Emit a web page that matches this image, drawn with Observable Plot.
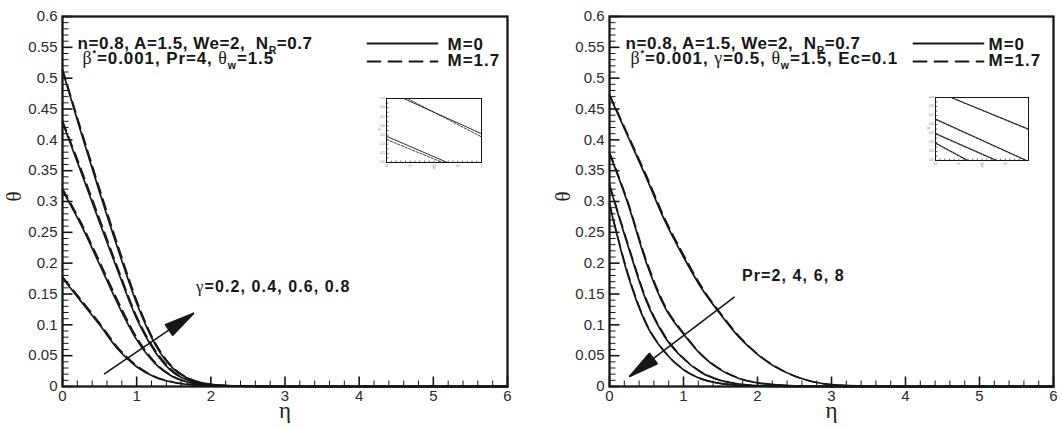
<!DOCTYPE html>
<html><head><meta charset="utf-8">
<script src="https://cdn.jsdelivr.net/npm/d3@7"></script>
<script src="https://cdn.jsdelivr.net/npm/@observablehq/plot@0.6"></script>
<style>
body{margin:0;background:#fff;}
#wrap{position:relative;width:1062px;height:429px;overflow:hidden;background:#fff;}
#wrap > div{position:absolute;}
svg{display:block;}
</style></head><body><div id="wrap"></div>
<script>
// ---------- data ----------
const etaGrid = [0,0.25,0.5,0.75,1,1.25,1.5,1.75,2,2.25,2.5,3,3.5,4,5,6];

// Left panel: gamma = 0.2, 0.4, 0.6, 0.8 ; solid M=0, dashed M=1.7
const thetaG02_M0  = [0.176,0.138,0.100,0.060,0.032,0.015,0.0065,0.0028,0.0012,0.0005,0.0002,0,0,0,0,0];
const thetaG04_M0  = [0.318,0.262,0.198,0.133,0.076,0.037,0.015,0.0055,0.002,0.0008,0.0003,0,0,0,0,0];
const thetaG06_M0  = [0.428,0.348,0.266,0.186,0.110,0.056,0.022,0.008,0.003,0.0011,0.0004,0,0,0,0,0];
const thetaG08_M0  = [0.512,0.412,0.315,0.222,0.135,0.068,0.028,0.010,0.0035,0.0013,0.0005,0,0,0,0,0];
const thetaG02_M17 = [0.178,0.141,0.103,0.063,0.034,0.016,0.007,0.003,0.0013,0.0005,0.0002,0,0,0,0,0];
const thetaG04_M17 = [0.321,0.266,0.203,0.138,0.080,0.039,0.016,0.006,0.0022,0.0008,0.0003,0,0,0,0,0];
const thetaG06_M17 = [0.431,0.353,0.272,0.191,0.114,0.059,0.024,0.0085,0.0032,0.0012,0.0004,0,0,0,0,0];
const thetaG08_M17 = [0.515,0.417,0.321,0.228,0.140,0.071,0.030,0.011,0.0038,0.0014,0.0005,0,0,0,0,0];

// Right panel: Pr = 2, 4, 6, 8 ; solid M=0, dashed M=1.7
const thetaPr2_M0  = [0.472,0.405,0.338,0.268,0.210,0.158,0.117,0.080,0.052,0.031,0.017,0.003,0.0005,0,0,0];
const thetaPr4_M0  = [0.378,0.296,0.200,0.128,0.085,0.050,0.027,0.013,0.006,0.0028,0.0012,0.0002,0,0,0,0];
const thetaPr6_M0  = [0.326,0.228,0.138,0.080,0.045,0.022,0.010,0.004,0.0015,0.0006,0.0002,0,0,0,0,0];
const thetaPr8_M0  = [0.295,0.180,0.100,0.055,0.027,0.012,0.005,0.002,0.0007,0.0003,0.0001,0,0,0,0,0];
const thetaPr2_M17 = [0.474,0.408,0.342,0.272,0.214,0.161,0.119,0.082,0.053,0.032,0.017,0.003,0.0005,0,0,0];
const thetaPr4_M17 = [0.380,0.299,0.204,0.131,0.087,0.051,0.028,0.0135,0.006,0.0028,0.0012,0.0002,0,0,0,0];
const thetaPr6_M17 = [0.328,0.231,0.141,0.082,0.046,0.023,0.010,0.004,0.0015,0.0006,0.0002,0,0,0,0,0];
const thetaPr8_M17 = [0.297,0.183,0.102,0.056,0.028,0.012,0.005,0.002,0.0007,0.0003,0.0001,0,0,0,0,0];

// ticks
const yMajor = [0,0.05,0.1,0.15,0.2,0.25,0.3,0.35,0.4,0.45,0.5,0.55,0.6];
const yTickLabels = ["0","0.05","0.1","0.15","0.2","0.25","0.3","0.35","0.4","0.45","0.5","0.55","0.6"];
const xMajor = [0,1,2,3,4,5,6];
const xTickLabels = ["0","1","2","3","4","5","6"];

// texts
const leftLine1  = "n=0.8, A=1.5, We=2,  N_{R}=0.7";
const leftLine2  = "β^{*}=0.001, Pr=4, θ_{w}=1.5";
const rightLine1 = "n=0.8, A=1.5, We=2,  N_{R}=0.7";
const rightLine2 = "β^{*}=0.001, γ=0.5, θ_{w}=1.5, Ec=0.1";
const legendLabels = ["M=0", "M=1.7"];
const leftArrowLabel = "γ=0.2, 0.4, 0.6, 0.8";
const rightArrowLabel = "Pr=2, 4, 6, 8";
const leftArrow  = [{x1: 0.56, y1: 0.02, x2: 1.77, y2: 0.119}];
const rightArrow = [{x1: 1.69, y1: 0.1455, x2: 0.27, y2: 0.016}];
const leftLabelPos  = [{x: 1.80, y: 0.161}];
const rightLabelPos = [{x: 1.79, y: 0.180}];

// insets (zoomed views, normalised units)
const insetLeftSolid  = [[[0.18,1],[1,0.45]], [[0,0.41],[0.64,0]]];
const insetLeftDashed = [[[0.22,1],[1,0.40]], [[0,0.36],[0.59,0]]];
const insetRightSolid  = [[[0.17,1],[1,0.50]], [[0,0.66],[0.98,0]], [[0,0.43],[0.66,0]], [[0,0.28],[0.35,0]]];
const insetRightDashed = [[[0.18,0.99],[1,0.49]], [[0,0.65],[0.97,0]], [[0,0.42],[0.65,0]], [[0,0.27],[0.34,0]]];
const insetXLabels = ["0.6","0.7","0.8","0.9","1"];

// ---------- helpers ----------
const ink = "#161616";
const tickShape = {draw(ctx, l) { ctx.moveTo(0, 0); ctx.lineTo(0, -l); }};
const yMinor = d3.range(0, 61).filter(i => i % 5 !== 0).map(i => i / 100);
const xMinor = d3.range(0, 31).filter(i => i % 5 !== 0).map(i => i / 5);

function toRows(arrays) {
  return arrays.flatMap((arr, k) => arr.map((v, i) => ({eta: etaGrid[i], theta: v, k})));
}
function filledHead(color, context) {
  const m = d3.create("svg:marker")
    .attr("viewBox", "-30 -7 30 14").attr("markerWidth", 30).attr("markerHeight", 14)
    .attr("markerUnits", "userSpaceOnUse").attr("refX", 0).attr("refY", 0)
    .attr("orient", "auto").attr("overflow", "visible");
  m.append("path").attr("d", "M-30,-6.5L0,0L-30,6.5Z").attr("fill", color);
  return m.node();
}
function richify(svg, specs) {
  d3.select(svg).selectAll("text").each(function () {
    const t = this.textContent;
    const spec = specs.find(s => s.text === t);
    if (!spec) return;
    const sel = d3.select(this);
    sel.text(null);
    sel.style("white-space", "pre");
    if (spec.spacing) sel.attr("letter-spacing", spec.spacing);
    const fs = spec.size;
    const parts = t.split(/(_\{[^}]*\}|\^\{[^}]*\})/).filter(s => s.length);
    let shift = 0;
    for (const p of parts) {
      let txt = p, size = null, newShift = 0;
      if (p.startsWith("_{")) { txt = p.slice(2, -1); newShift = fs * 0.3; size = fs * 0.62; }
      else if (p.startsWith("^{")) { txt = p.slice(2, -1); newShift = -fs * 0.45; size = fs * 0.55; }
      const dy = newShift - shift; shift = newShift;
      const pieces = txt.split(/([α-ω])/).filter(s => s.length);
      let first = true;
      for (const s of pieces) {
        const ts = sel.append("tspan").text(s);
        if (first && dy) ts.attr("dy", dy);
        first = false;
        if (size) ts.attr("font-size", size);
        if (/^[α-ω]$/.test(s)) ts.attr("font-weight", "normal").attr("font-family", "'Liberation Serif', 'DejaVu Serif', serif").attr("font-size", fs * 1.05);
      }
    }
  });
}
// inward tick rows (tick length given in px, converted with the scale span)
function yTickRows(vals, px, PW) { return vals.map(v => ({x1: 0, x2: px * 6 / PW, y1: v, y2: v})); }
function xTickRows(vals, px, PH) { return vals.map(v => ({x1: v, x2: v, y1: 0, y2: px * 0.6 / PH})); }

function mainPanel(cfg) {
  const txt = {fontWeight: "bold", fill: ink, textAnchor: "start", lineAnchor: "middle"};
  const PW = cfg.width - cfg.ml - cfg.mr, PH = 429 - 16 - 43;
  const L = {x1: "x1", x2: "x2", y1: "y1", y2: "y2", stroke: ink};
  const svg = Plot.plot({
    width: cfg.width, height: 429,
    marginLeft: cfg.ml, marginRight: cfg.mr, marginTop: 16, marginBottom: 43,
    x: {domain: [0, 6]}, y: {domain: [0, 0.6]},
    style: {background: "white", color: ink, fontFamily: "'Liberation Sans', Arial, sans-serif", overflow: "visible"},
    marks: [
      Plot.line(toRows(cfg.solid), {x: "eta", y: "theta", z: "k", curve: "monotone-x", stroke: ink, strokeWidth: 1.7}),
      Plot.line(toRows(cfg.dashed), {x: "eta", y: "theta", z: "k", curve: "monotone-x", stroke: ink, strokeWidth: 1.5, strokeDasharray: "11,6"}),
      Plot.link(yTickRows(yMajor, 10, PW), {...L, strokeWidth: 1.6}),
      Plot.link(yTickRows(yMinor, 6, PW), {...L, strokeWidth: 1}),
      Plot.link(xTickRows(xMajor, 10, PH), {...L, strokeWidth: 1.6}),
      Plot.link(xTickRows(xMinor, 6, PH), {...L, strokeWidth: 1}),
      Plot.frame({stroke: ink, strokeWidth: 2.3}),
      Plot.axisY({ticks: yMajor, tickSize: 0, tickPadding: 5, label: null, tickFormat: d => yTickLabels[yMajor.indexOf(d)], fontSize: 15, color: "#2a2a2a"}),
      Plot.axisX({ticks: xMajor, tickSize: 0, tickPadding: 4, label: null, tickFormat: d => xTickLabels[xMajor.indexOf(d)], fontSize: 15, color: "#2a2a2a"}),
      Plot.text(["θ"], {text: d => d, frameAnchor: "left", dx: cfg.thetaDx, rotate: -90, fontSize: 21, fontFamily: "'Liberation Serif', serif", fill: "#222"}),
      Plot.text(["η"], {text: d => d, frameAnchor: "bottom", dy: 31, fontSize: 23, fontFamily: "'Liberation Serif', serif", fill: "#222"}),
      Plot.text([cfg.line1], {text: d => d, frameAnchor: "top-left", dx: cfg.l1dx, dy: 26.6, fontSize: 17, ...txt}),
      Plot.text([cfg.line2], {text: d => d, frameAnchor: "top-left", dx: cfg.l2dx, dy: 41.6, fontSize: 17, ...txt}),
      Plot.vector([0], {frameAnchor: "top-left", dx: cfg.legDx, dy: 27, length: 70, rotate: 90, anchor: "start", shape: tickShape, stroke: ink, strokeWidth: 1.8}),
      Plot.vector([0], {frameAnchor: "top-left", dx: cfg.legDx, dy: 45, length: 70, rotate: 90, anchor: "start", shape: tickShape, stroke: ink, strokeWidth: 1.8, strokeDasharray: "13,8"}),
      Plot.text([legendLabels[0]], {text: d => d, frameAnchor: "top-left", dx: cfg.legTx, dy: 28, fontSize: 17, ...txt}),
      Plot.text([legendLabels[1]], {text: d => d, frameAnchor: "top-left", dx: cfg.legTx, dy: 43.6, fontSize: 17, ...txt}),
      Plot.link(cfg.arrow, {x1: "x1", y1: "y1", x2: "x2", y2: "y2", stroke: ink, strokeWidth: 1.6, markerEnd: filledHead}),
      Plot.text(cfg.labelPos, {x: "x", y: "y", text: () => cfg.label, fontSize: 16, ...txt})
    ]
  });
  richify(svg, [
    {text: cfg.line1, size: 17, spacing: 0.55},
    {text: cfg.line2, size: 17, spacing: 0.9},
    {text: legendLabels[0], size: 17, spacing: 1},
    {text: legendLabels[1], size: 17, spacing: 1},
    {text: cfg.label, size: 16, spacing: 1.1}
  ]);
  return svg;
}

function segRows(segs) {
  return segs.flatMap((s, k) => s.map(([x, y]) => ({x, y, k})));
}
function insetPanel(solid, dashed, w, h) {
  const yT = d3.range(0, 15).map(i => i / 14);
  const xT = d3.range(0, 21).map(i => i / 20);
  const xL = [0, 0.25, 0.5, 0.75, 1];
  const L = {x1: "x1", x2: "x2", y1: "y1", y2: "y2", stroke: "#333", strokeWidth: 0.7};
  return Plot.plot({
    width: w + 10, height: h + 9, marginLeft: 9, marginRight: 1, marginTop: 1, marginBottom: 8,
    x: {domain: [0, 1], axis: null}, y: {domain: [0, 1], axis: null},
    style: {background: "white", fontFamily: "'Liberation Sans', Arial, sans-serif"},
    marks: [
      Plot.line(segRows(solid), {x: "x", y: "y", z: "k", stroke: ink, strokeWidth: 0.9, clip: true}),
      Plot.line(segRows(dashed), {x: "x", y: "y", z: "k", stroke: ink, strokeWidth: 0.8, strokeDasharray: "2.5,1.5", clip: true}),
      Plot.link(yT.map(v => ({x1: 0, x2: 2 / w, y1: v, y2: v})), L),
      Plot.link(xT.map(v => ({x1: v, x2: v, y1: 0, y2: 2 / h})), L),
      Plot.frame({stroke: ink, strokeWidth: 1}),
      Plot.text(yT.filter((d, i) => i % 2 === 0), {x: 0, y: d => d, text: d => (0.2 + d * 0.1).toFixed(2), dx: -1.5, textAnchor: "end", fontSize: 2.6, fill: "#777"}),
      Plot.text(xL, {x: d => d, y: 0, text: (d, i) => insetXLabels[i], dy: 3.2, fontSize: 2.6, fill: "#777"}),
      Plot.text(["θ"], {text: d => d, frameAnchor: "left", dx: -7, rotate: -90, fontSize: 4, fill: "#777"}),
      Plot.text(["η"], {text: d => d, frameAnchor: "bottom", dy: 6, fontSize: 4, fill: "#777"})
    ]
  });
}

// ---------- layout ----------
const wrap = document.getElementById("wrap");
function place(node, left, top) {
  const d = document.createElement("div");
  d.style.left = left + "px"; d.style.top = top + "px";
  d.appendChild(node); wrap.appendChild(d);
}

place(mainPanel({
  width: 530, ml: 62, mr: 23, thetaDx: -48,
  solid: [thetaG02_M0, thetaG04_M0, thetaG06_M0, thetaG08_M0],
  dashed: [thetaG02_M17, thetaG04_M17, thetaG06_M17, thetaG08_M17],
  line1: leftLine1, line2: leftLine2, l1dx: 15, l2dx: 20,
  legDx: 305, legTx: 385,
  arrow: leftArrow, labelPos: leftLabelPos, label: leftArrowLabel
}), 0, 0);

place(mainPanel({
  width: 532, ml: 79, mr: 9, thetaDx: -46,
  solid: [thetaPr2_M0, thetaPr4_M0, thetaPr6_M0, thetaPr8_M0],
  dashed: [thetaPr2_M17, thetaPr4_M17, thetaPr6_M17, thetaPr8_M17],
  line1: rightLine1, line2: rightLine2, l1dx: 16, l2dx: 21,
  legDx: 304, legTx: 379,
  arrow: rightArrow, labelPos: rightLabelPos, label: rightArrowLabel
}), 530, 0);

place(insetPanel(insetLeftSolid, insetLeftDashed, 95, 64), 377, 97);
place(insetPanel(insetRightSolid, insetRightDashed, 93, 63), 926, 96);
</script>
</body></html>
